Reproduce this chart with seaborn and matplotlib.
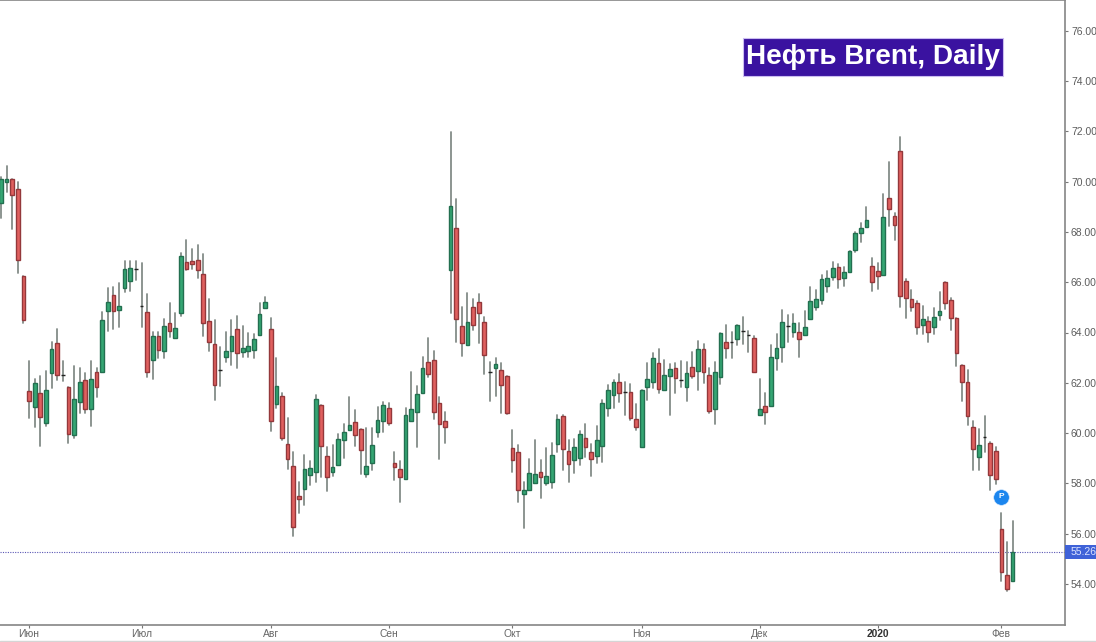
"""
Brent crude daily candlesticks, Jun 2019 - Feb 2020
"""

import numpy as np
import pandas as pd
import seaborn as sns
import matplotlib.pyplot as plt
from matplotlib.patches import Rectangle

opens = [
    69.16, 70.0, 70.12, 69.71, 66.26, 61.68, 61.03, 61.61, 60.41, 62.4,
    63.6, 62.3, 61.83, 59.93, 61.25, 62.1, 60.95, 62.43, 62.44, 64.84,
    65.49, 64.88, 65.78, 66.06, 66.53, 65.07, 64.83, 62.91, 63.87, 63.28,
    64.36, 63.79, 64.76, 66.82, 66.84, 66.88, 66.33, 64.44, 63.54, 62.51,
    63.04, 63.28, 64.15, 63.21, 63.28, 63.3, 63.9, 64.96, 64.13, 61.17,
    61.48, 59.58, 58.7, 57.51, 57.76, 58.32, 58.47, 61.1, 59.09, 58.44,
    58.73, 59.71, 60.12, 60.43, 60.15, 58.36, 58.8, 60.03, 60.49, 61.0,
    58.82, 58.56, 58.18, 60.49, 60.83, 61.61, 62.84, 62.9, 61.18, 60.48,
    66.47, 68.17, 64.26, 63.5, 65.01, 65.23, 64.42, 62.44, 62.59, 62.5,
    62.27, 59.42, 59.26, 57.58, 57.74, 58.02, 58.47, 58.02, 58.07, 59.55,
    60.69, 59.3, 58.93, 59.0, 59.79, 59.26, 59.09, 59.49, 60.98, 61.51,
    62.04, 61.62, 61.62, 60.57, 59.46, 61.82, 62.04, 62.8, 61.71, 62.28,
    62.6, 62.1, 61.85, 62.64, 62.47, 63.36, 62.31, 60.94, 62.22, 63.61,
    63.63, 63.73, 64.06, 63.91, 63.77, 60.72, 61.06, 61.08, 62.97, 63.44,
    64.27, 64.02, 64.03, 63.91, 64.55, 65.03, 65.29, 65.86, 66.2, 66.59,
    66.17, 66.42, 67.28, 67.94, 68.21, 66.66, 66.44, 66.27, 69.36, 68.64,
    71.23, 66.03, 65.32, 65.16, 64.3, 64.44, 64.23, 64.69, 65.99, 65.28,
    64.59, 62.71, 62.04, 60.24, 59.03, 59.84, 59.62, 59.3, 56.19, 54.34,
    54.13,
]
highs = [
    70.2, 70.62, 70.12, 69.97, 66.26, 62.88, 62.14, 62.27, 62.47, 63.63,
    64.13, 62.88, 61.83, 62.67, 62.57, 62.4, 62.88, 62.57, 64.83, 65.76,
    65.82, 65.98, 66.84, 66.84, 66.84, 66.78, 65.53, 64.03, 64.03, 64.54,
    65.16, 64.76, 67.15, 67.68, 67.31, 67.48, 67.12, 65.32, 64.5, 63.41,
    64.03, 64.5, 64.67, 64.26, 63.97, 63.93, 65.16, 65.42, 64.56, 63.0,
    61.61, 60.59, 59.26, 58.04, 59.13, 58.89, 61.52, 61.1, 59.46, 59.53,
    59.95, 60.36, 61.45, 60.92, 60.15, 60.22, 60.19, 61.05, 61.22, 61.18,
    59.26, 58.89, 60.98, 62.42, 61.89, 63.04, 63.8, 63.28, 61.42, 60.85,
    71.96, 69.29, 65.03, 65.58, 65.32, 65.52, 64.6, 62.84, 62.97, 62.77,
    62.27, 60.12, 59.53, 58.04, 58.97, 59.72, 58.93, 59.39, 59.59, 60.72,
    60.72, 59.72, 59.76, 60.08, 60.35, 59.55, 60.28, 61.32, 61.91, 62.11,
    62.36, 62.02, 61.94, 61.16, 61.71, 62.8, 63.2, 63.33, 62.91, 62.73,
    62.77, 62.88, 62.81, 63.21, 63.67, 63.54, 62.57, 62.84, 64.0, 64.3,
    64.03, 64.3, 64.6, 64.06, 63.87, 62.14, 61.61, 63.5, 63.93, 64.89,
    64.69, 64.72, 64.36, 64.85, 65.8, 65.69, 66.29, 66.45, 66.82, 66.72,
    66.62, 67.24, 68.01, 68.37, 69.0, 66.97, 66.75, 69.5, 70.76, 68.74,
    71.78, 66.11, 65.69, 65.25, 65.05, 64.63, 64.99, 65.62, 66.02, 65.36,
    64.59, 62.71, 62.51, 60.5, 60.15, 60.68, 59.66, 59.46, 56.81, 55.68,
    56.5,
]
lows = [
    68.54, 69.6, 68.1, 66.35, 64.39, 60.6, 60.26, 59.49, 60.28, 61.81,
    62.1, 62.07, 59.62, 59.8, 60.79, 60.79, 60.28, 61.42, 62.44, 64.06,
    64.14, 64.2, 65.62, 65.66, 66.1, 64.23, 62.24, 62.14, 63.0, 62.97,
    63.83, 63.79, 64.66, 66.48, 66.53, 66.15, 63.87, 63.27, 61.32, 61.87,
    62.81, 62.71, 62.6, 63.04, 63.04, 62.97, 63.9, 64.96, 60.08, 61.0,
    59.73, 58.56, 55.91, 56.81, 57.14, 57.94, 58.07, 58.24, 57.71, 58.3,
    58.73, 59.0, 60.12, 59.5, 58.36, 58.27, 58.53, 59.86, 60.03, 60.32,
    58.14, 57.27, 58.18, 60.49, 59.46, 61.61, 62.22, 60.56, 58.96, 59.62,
    64.76, 63.61, 63.08, 63.5, 64.1, 63.57, 62.34, 61.28, 61.49, 60.79,
    60.75, 58.47, 57.27, 56.21, 57.74, 58.02, 57.43, 57.94, 57.83, 59.26,
    58.53, 58.07, 58.4, 58.73, 59.06, 58.31, 58.8, 58.86, 60.68, 60.98,
    61.25, 60.72, 60.52, 60.12, 59.46, 61.32, 61.78, 61.61, 61.71, 60.72,
    61.61, 61.85, 61.28, 62.18, 61.71, 62.0, 60.78, 60.35, 61.96, 63.0,
    63.0, 63.49, 63.53, 63.24, 62.42, 60.72, 60.35, 61.08, 62.5, 62.84,
    63.63, 63.83, 63.04, 63.91, 64.55, 64.89, 65.13, 65.6, 66.08, 65.76,
    65.85, 66.42, 67.21, 67.61, 68.21, 65.66, 65.73, 66.27, 68.25, 67.68,
    65.0, 64.56, 64.87, 63.94, 63.94, 63.61, 63.94, 64.5, 64.93, 64.1,
    62.68, 61.27, 60.32, 58.53, 58.53, 59.26, 57.74, 57.96, 54.12, 53.73,
    54.13,
]
closes = [
    70.12, 70.12, 69.47, 66.88, 64.5, 61.29, 61.98, 60.65, 61.71, 63.33,
    62.3, 62.3, 59.97, 61.34, 62.05, 60.95, 62.17, 61.82, 64.5, 65.2,
    64.84, 65.05, 66.51, 66.55, 66.53, 65.07, 62.42, 63.86, 63.3, 64.26,
    64.07, 64.19, 67.04, 66.53, 66.72, 66.48, 64.36, 63.64, 61.9, 62.51,
    63.28, 63.85, 63.2, 63.4, 63.48, 63.74, 64.75, 65.2, 60.49, 61.89,
    59.82, 58.96, 56.25, 57.38, 58.56, 58.6, 61.34, 59.49, 58.24, 58.67,
    59.77, 60.06, 60.32, 59.92, 59.33, 58.7, 59.53, 60.52, 61.1, 60.42,
    58.65, 58.27, 60.73, 60.96, 61.55, 62.6, 62.36, 60.83, 60.38, 60.23,
    69.03, 64.55, 63.6, 64.4, 64.28, 64.77, 63.12, 62.44, 62.76, 61.93,
    60.79, 58.93, 57.72, 57.72, 58.4, 58.36, 58.24, 58.31, 59.12, 60.55,
    59.37, 58.77, 59.46, 59.95, 59.46, 58.96, 59.71, 61.18, 61.7, 62.04,
    61.58, 61.62, 60.61, 60.23, 61.71, 62.15, 62.99, 61.74, 62.31, 62.53,
    62.18, 62.1, 62.38, 62.28, 63.33, 62.44, 60.89, 62.42, 64.0, 63.4,
    63.63, 64.3, 64.06, 63.91, 62.44, 60.96, 60.84, 63.02, 63.39, 64.4,
    64.27, 64.36, 63.73, 64.22, 65.24, 65.34, 66.11, 66.17, 66.55, 66.11,
    66.4, 67.24, 67.94, 68.17, 68.47, 66.02, 66.23, 68.6, 68.9, 68.27,
    65.45, 65.38, 65.0, 64.2, 64.52, 64.03, 64.63, 64.87, 65.18, 64.59,
    63.2, 62.03, 60.69, 59.35, 59.54, 59.84, 58.32, 58.17, 54.46, 53.8,
    55.28,
]

month_pos = [5, 25, 48, 69, 91, 114, 135, 156, 178]
month_labels = ['Июн', 'Июл', 'Авг', 'Сен', 'Окт', 'Ноя', 'Дек', '2020', 'Фев']
price_ticks = [54, 56, 58, 60, 62, 64, 66, 68, 70, 72, 74, 76]
last_price = 55.26
marker_pos = 178
marker_price = 57.46
title_text = 'Нефть Brent, Daily'


def main():
    sns.set_theme(style='white')
    plt.rcParams['font.family'] = ['Liberation Sans', 'DejaVu Sans']

    df = pd.DataFrame({'open': opens, 'high': highs, 'low': lows, 'close': closes})
    df['day'] = np.arange(len(df))
    df['top'] = df[['open', 'close']].max(axis=1)
    df['bottom'] = df[['open', 'close']].min(axis=1)
    df['body'] = df['top'] - df['bottom']

    W, H = 1096, 642
    fig = plt.figure(figsize=(W / 100, H / 100), dpi=100, facecolor='white')
    ax = fig.add_axes([0, 1 - 625 / H, 1065 / W, 625 / H])

    # wicks, one line per candle
    wicks = df.melt(id_vars='day', value_vars=['low', 'high'], value_name='price')
    sns.lineplot(data=wicks, x='day', y='price', units='day', estimator=None,
                 color='#848c88', linewidth=1.3, sort=False, ax=ax, zorder=2)

    # candle bodies
    groups = [
        (df[df['close'] > df['open']], '#35a673', '#236f50'),
        (df[df['close'] < df['open']], '#e0605f', '#94383b'),
        (df[df['close'] == df['open']], '#222222', '#222222'),
    ]
    for sub, face, edge in groups:
        sns.barplot(data=sub, x='day', y='body', bottom=sub['bottom'].values,
                    native_scale=True, width=0.66, color=face, saturation=1,
                    edgecolor=edge, linewidth=1.0, errorbar=None, ax=ax, zorder=3)

    ax.axhline(last_price, color='#5b57b5', linewidth=0.8, linestyle=(0, (1, 1.2)), zorder=1)

    # pivot marker
    ax.scatter([marker_pos], [marker_price], s=125, color='#1c86ee', zorder=5,
               edgecolor='#cfe6ff', linewidth=0.4)
    ax.text(marker_pos, marker_price, 'P', color='white', fontsize=6, fontweight='bold',
            ha='center', va='center', zorder=6)

    ax.set_xlim(-1 / 5.62, 1064 / 5.62)
    ax.set_ylim(54 - 41 / 25.15, 54 + 584 / 25.15)

    ax.yaxis.tick_right()
    ax.set_yticks(price_ticks)
    ax.set_yticklabels([f'{p:.2f}' for p in price_ticks])
    ax.set_xticks(month_pos)
    ax.set_xticklabels(month_labels)
    ax.set_xlabel('')
    ax.set_ylabel('')
    ax.tick_params(axis='y', which='major', right=True, length=2.5, width=0.8, color='#777777',
                   labelsize=7.5, labelcolor='#5c5c5c', pad=1.8)
    ax.tick_params(axis='x', which='major', bottom=True, length=2.2, width=0.8, color='#777777',
                   labelsize=7.4, labelcolor='#666666', pad=1.0)
    for lab in ax.get_xticklabels():
        if lab.get_text() == '2020':
            lab.set_fontweight('bold')
            lab.set_color('#333333')

    for name, spine in ax.spines.items():
        spine.set_color('#858585')
        spine.set_linewidth(1.2)
    ax.spines['left'].set_visible(False)

    # last price tag
    ax.add_patch(Rectangle((1, last_price - 0.28), 31 / 1065, 0.58, transform=ax.get_yaxis_transform(),
                           facecolor='#3f62d8', edgecolor='none', clip_on=False, zorder=6))
    ax.text(1 + 6 / 1065, last_price, f'{last_price:.2f}', transform=ax.get_yaxis_transform(),
            color='#dde4ff', fontsize=7.5, va='center', ha='left', clip_on=False, zorder=7)

    # title badge
    ax.add_patch(Rectangle((743 / 1065, 1 - 76 / 625), 260 / 1065, 38 / 625, transform=ax.transAxes,
                           facecolor='#3a12a0', edgecolor='#cbbdf0', linewidth=0.8, zorder=7))
    ax.text(873 / 1065, 1 - 57 / 625, title_text, transform=ax.transAxes, color='white',
            fontsize=20.1, fontweight='bold', ha='center', va='center', zorder=8)

    # faint line under the axis labels
    fig.add_artist(plt.Line2D([0, 1], [1 / H, 1 / H], color='#d5d5d5', linewidth=1))

    fig.savefig('out.png', dpi=100)
    print("saved out.png")


if __name__ == "__main__":
    main()
